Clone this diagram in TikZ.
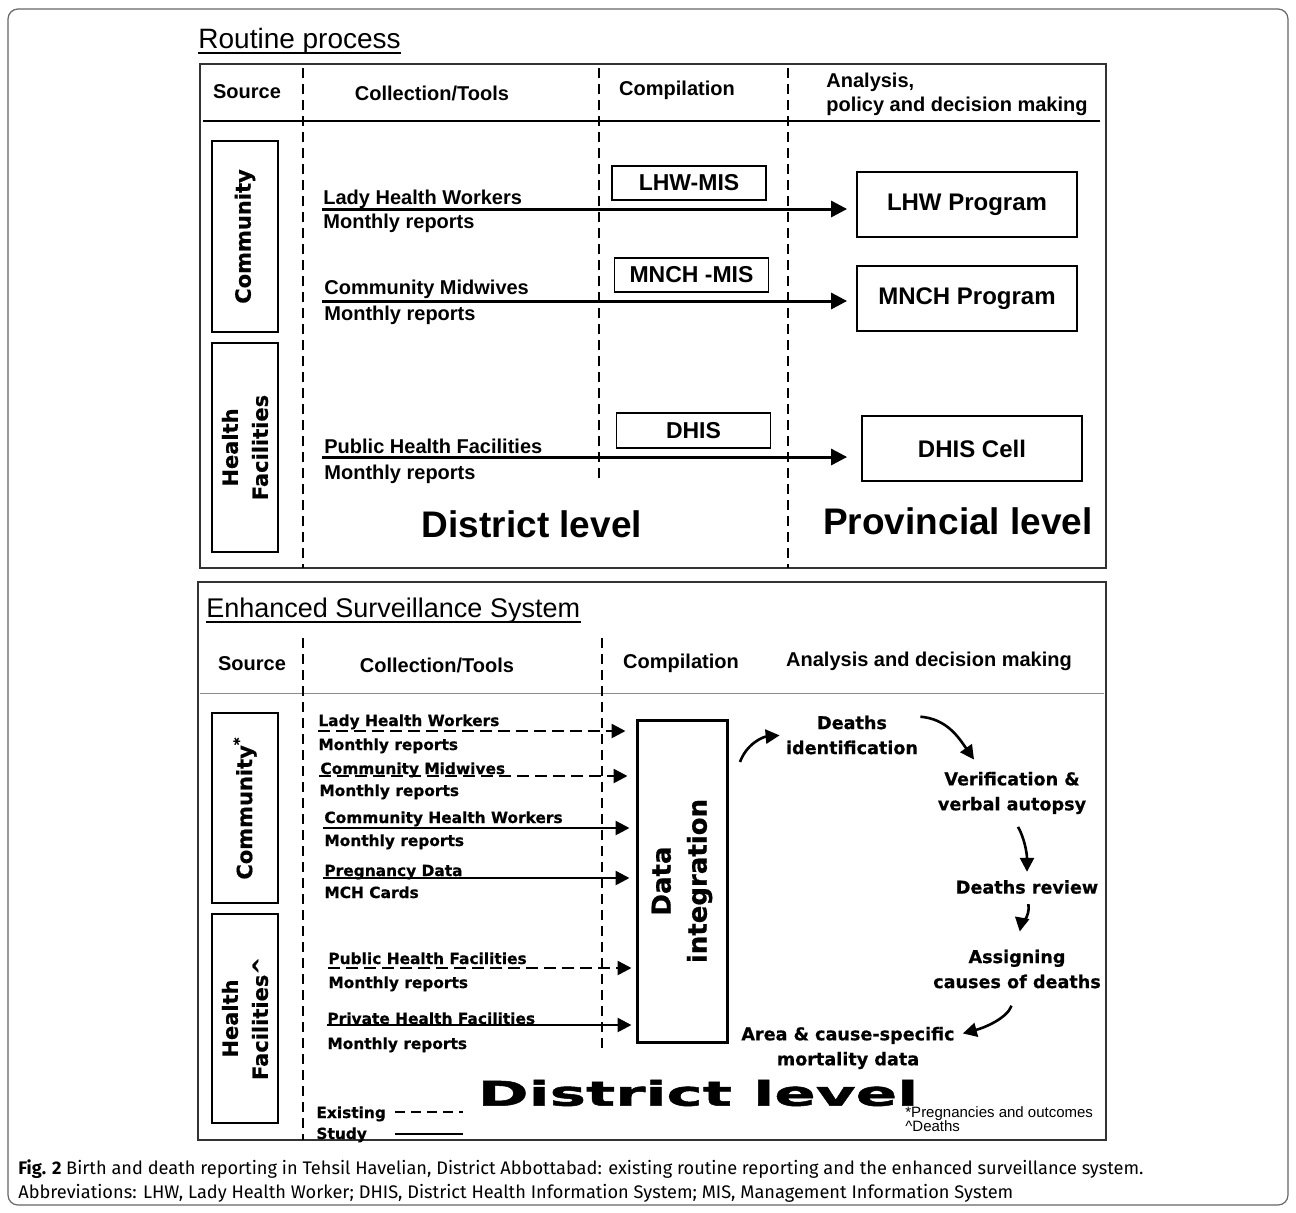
\documentclass[tikz,border=0pt]{standalone}
\usepackage{fontspec}
\setmainfont{Liberation Sans}
\newfontfamily\widefont[FakeBold=0.6]{DejaVu Sans}
\newfontfamily\stretchfont[FakeStretch=1.8, FakeBold=1.5]{DejaVu Sans}
\newfontfamily\capfont{Fira Sans}
\usetikzlibrary{positioning, arrows.meta, calc}
\newcommand{\fsz}[2]{\fontsize{#1}{#2}\selectfont}

\begin{document}
\begin{tikzpicture}[
  x=0.5pt, y=0.5pt,
  font=\bfseries\fsz{10pt}{12pt},
  panel/.style={draw=black!80, line width=1pt},
  title/.style={anchor=base west, inner sep=0pt, font=\mdseries\fsz{14pt}{16pt}},
  head/.style={inner sep=0pt, font=\bfseries\fsz{10pt}{12pt}},
  divider/.style={dash pattern=on 5pt off 3pt, line width=0.8pt},
  srcbox/.style={draw, line width=1pt, rotate=90, minimum height=33pt,
    align=center, font=\widefont\bfseries\fsz{10.5pt}{15pt}},
  mis/.style={draw, line width=0.9pt, minimum width=77pt, minimum height=17pt,
    font=\bfseries\fsz{11.5pt}{13pt}},
  prog/.style={draw, line width=0.9pt, minimum width=110pt, minimum height=32.5pt,
    font=\bfseries\fsz{12pt}{14pt}},
  lbl/.style={anchor=base west, inner sep=0pt},
  blbl/.style={anchor=base west, inner sep=0pt, font=\widefont\bfseries\fsz{7.7pt}{9pt}},
  level/.style={inner sep=0pt, font=\bfseries\fsz{18.5pt}{20pt}},
  flow/.style={-{Triangle[length=8pt,width=8pt]}, line width=1.5pt},
  study/.style={-{Triangle[length=7pt,width=7pt]}, line width=1.3pt, shorten >=3pt},
  existing/.style={study, dash pattern=on 6pt off 3pt},
  stage/.style={align=center, inner sep=1pt, font=\widefont\bfseries\fsz{8.8pt}{12.5pt}},
  cyc/.style={-{Triangle[length=7pt,width=7pt]}, line width=1.3pt},
]
  \useasboundingbox (0,0) rectangle (1296,-1212);
  \draw[black!60, line width=0.6pt, rounded corners=5pt] (8,-9) rectangle (1288,-1205);

  % ---------- Routine process ----------
  \node[title] (rtitle) at (198,-48) {Routine process};
  \draw[line width=0.7pt] ([yshift=-2.5pt]rtitle.base west) -- ([yshift=-2.5pt]rtitle.base east);
  \draw[panel] (200,-64) rectangle (1106,-568);

  % column heads
  \node[head] (tsrc) at (247,-92) {Source};
  \node[head] (tcol) at (432,-93) {Collection/Tools};
  \node[head] (tcmp) at (677,-90) {Compilation};
  \node[head, align=left, anchor=west] (tana) at (826,-94) {Analysis,\\policy and decision making};
  \draw[line width=1.2pt] (203,-121) -- (1100,-121);

  % column dividers
  \draw[divider] (303,-68) -- (303,-568);
  \draw[divider] (599,-68) -- (599,-480);
  \draw[divider] (788,-68) -- (788,-568);

  % sources
  \node[srcbox, minimum width=95.5pt] (tcomm) at (245,-236.5) {Community};
  \node[srcbox, minimum width=104.5pt] (thf) at (245,-447.5) {Health\\Facilities};

  % compilation and programs
  \node[mis] (lhwmis) at (689,-183) {LHW-MIS};
  \node[mis] (mnchmis) at (691.5,-275) {MNCH -MIS};
  \node[mis, minimum height=17.5pt] (dhis) at (693.5,-430.5) {DHIS};
  \node[prog] (lhwprog) at (967,-204.5) {LHW Program};
  \node[prog] (mnchprog) at (967,-298.5) {MNCH Program};
  \node[prog] (dhiscell) at (972,-448.5) {DHIS Cell};

  % reporting flows
  \coordinate (lhwin) at (322,-209);
  \coordinate (cmwin) at (322,-301);
  \coordinate (phfin) at (322,-457);
  \node[lbl] (lhwtop) at (323,-204) {Lady Health Workers};
  \node[lbl] (lhwbot) at (323,-228) {Monthly reports};
  \node[lbl] (cmwtop) at (324,-294) {Community Midwives};
  \node[lbl] (cmwbot) at (324,-320) {Monthly reports};
  \node[lbl] (phftop) at (324,-453) {Public Health Facilities};
  \node[lbl] (phfbot) at (324,-479) {Monthly reports};
  \draw[flow, shorten >=4.5pt] (lhwin) -- (lhwin -| lhwprog.west);
  \draw[flow, shorten >=4.5pt] (cmwin) -- (cmwin -| mnchprog.west);
  \draw[flow, shorten >=7pt] (phfin) -- (phfin -| dhiscell.west);

  \node[level] (tdist) at (532,-524) {District level};
  \node[level] (tprov) at (958,-521) {Provincial level};

  % ---------- Enhanced surveillance ----------
  \node[title, font=\mdseries\fsz{13.5pt}{16pt}] (etitle) at (206,-617) {Enhanced Surveillance System};
  \draw[line width=0.7pt] ([yshift=-2.5pt]etitle.base west) -- ([yshift=-2.5pt]etitle.base east);
  \draw[panel] (198,-582) rectangle (1106,-1140);

  \node[head] (esrc) at (252,-664) {Source};
  \node[head] (ecol) at (437,-665) {Collection/Tools};
  \node[head] (ecmp) at (681,-663) {Compilation};
  \node[head] (eana) at (929,-661) {Analysis and decision making};
  \draw[black!45, line width=0.5pt] (200,-693) -- (1104,-693);

  \draw[divider] (303,-638) -- (303,-1140);
  \draw[divider] (602,-638) -- (602,-1050);

  \node[srcbox, minimum width=95pt] (ecomm) at (245,-808) {Community\textsuperscript{*}};
  \node[srcbox, minimum width=104.5pt] (ehf) at (245,-1018.5) {Health\\Facilities\textasciicircum};

  \node[draw, line width=1.5pt, rotate=90, minimum width=161pt, minimum height=45pt,
    align=center, font=\widefont\bfseries\fsz{13pt}{18pt}] (dint) at (682,-881) {Data\\integration};

  % data streams (dashed = existing, solid = study)
  \coordinate (lhw) at (318,-731);
  \coordinate (cmw) at (319,-776);
  \coordinate (chw) at (323,-828);
  \coordinate (preg) at (323,-878);
  \coordinate (pub) at (328,-968);
  \coordinate (priv) at (327,-1025);
  \node[blbl] (lhwa) at (318,-726) {Lady Health Workers};
  \node[blbl] (lhwb) at (318,-750) {Monthly reports};
  \node[blbl] (cmwa) at (320,-774) {Community Midwives};
  \node[blbl] (cmwb) at (319,-796) {Monthly reports};
  \node[blbl] (chwa) at (324,-823) {Community Health Workers};
  \node[blbl] (chwb) at (324,-846) {Monthly reports};
  \node[blbl] (prega) at (324,-876) {Pregnancy Data};
  \node[blbl] (pregb) at (324,-898) {MCH Cards};
  \node[blbl] (puba) at (328,-964) {Public Health Facilities};
  \node[blbl] (pubb) at (328,-988) {Monthly reports};
  \node[blbl] (priva) at (327,-1024) {Private Health Facilities};
  \node[blbl] (privb) at (327,-1049) {Monthly reports};
  \draw[existing, shorten >=5pt] (lhw) -- (lhw -| dint.north);
  \draw[existing, shorten >=4pt] (cmw) -- (cmw -| dint.north);
  \draw[study] (chw) -- (chw -| dint.north);
  \draw[study] (preg) -- (preg -| dint.north);
  \draw[existing, shorten >=2pt] (pub) -- (pub -| dint.north);
  \draw[study, shorten >=2pt] (priv) -- (priv -| dint.north);

  % analysis cycle
  \node[stage] (did) at (852,-735) {Deaths\\identification};
  \node[stage] (ver) at (1012,-793) {Verification \&\\verbal autopsy};
  \node[stage] (rev) at (1027,-887) {Deaths review};
  \node[stage] (asg) at (1017,-969) {Assigning\\causes of deaths};
  \node[stage] (area) at (848,-1048) {Area \& cause-specific\\mortality data};
  \coordinate (dout) at (740,-762);
  \draw[cyc, shorten >=2pt] (dout) to[out=70, in=185] (did.west);
  \draw[cyc] (did.15) to[out=-5, in=125] ($(ver.north)+(-38,10)$);
  \draw[cyc, shorten <=6pt, shorten >=3pt] (ver.south) to[out=-60, in=90] (rev.north);
  \draw[cyc, shorten <=4pt, shorten >=8pt] (rev.south) to[out=-80, in=80] (asg.north);
  \draw[cyc, shorten <=8pt, shorten >=3pt] (asg.south) to[out=-110, in=15] ($(area.east)+(0,13)$);

  \node[inner sep=0pt, font=\stretchfont\bfseries\fsz{17pt}{18pt}] (edist) at (698,-1093) {District level};

  % legend and notes
  \node[blbl] (exlbl) at (316,-1118) {Existing};
  \node[blbl] (stlbl) at (316,-1139) {Study};
  \coordinate (exa) at (395,-1112);
  \coordinate (exb) at (463,-1112);
  \coordinate (sta) at (395,-1134);
  \coordinate (stb) at (463,-1134);
  \draw[line width=1.4pt, dash pattern=on 5pt off 3pt] (exa) -- (exb);
  \draw[line width=1.4pt] (sta) -- (stb);
  \node[anchor=north west, inner sep=0pt, align=left, font=\mdseries\fsz{7.5pt}{7pt}] (notes)
    at (905,-1106) {*Pregnancies and outcomes\\\textasciicircum Deaths};

  % caption
  \node[anchor=north west, inner sep=0pt, align=left, font=\capfont\mdseries\fsz{9.1pt}{12pt}] (cap)
    at (18,-1159) {\textbf{Fig. 2} Birth and death reporting in Tehsil Havelian, District Abbottabad: existing routine reporting and the enhanced surveillance system.\\
    Abbreviations: LHW, Lady Health Worker; DHIS, District Health Information System; MIS, Management Information System};
\end{tikzpicture}
\end{document}
